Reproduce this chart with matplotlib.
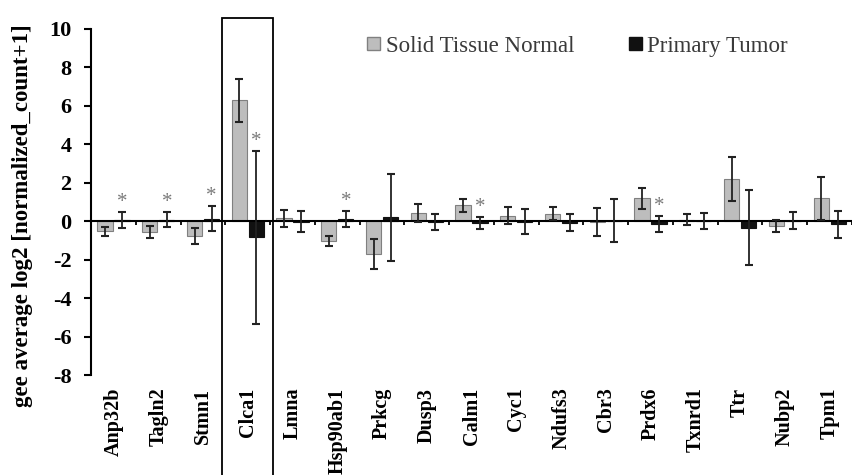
import matplotlib
matplotlib.use("Agg")
import matplotlib.pyplot as plt
import matplotlib.transforms as mtransforms
from matplotlib.patches import Patch, Rectangle
import numpy as np

genes = ["Anp32b", "Tagln2", "Stmn1", "Clca1", "Lmna", "Hsp90ab1", "Prkcg",
         "Dusp3", "Calm1", "Cyc1", "Ndufs3", "Cbr3", "Prdx6", "Txnrd1", "Ttr",
         "Nubp2", "Tpm1"]
normal_mean = [-0.52, -0.55, -0.78, 6.3, 0.15, -1.03, -1.72, 0.42, 0.82, 0.28,
               0.4, -0.04, 1.2, 0.08, 2.18, -0.25, 1.2]
normal_err = [0.23, 0.3, 0.43, 1.12, 0.43, 0.24, 0.77, 0.47, 0.32, 0.45,
              0.35, 0.73, 0.55, 0.3, 1.14, 0.32, 1.12]
tumor_mean = [0.06, 0.08, 0.13, -0.83, -0.03, 0.12, 0.2, -0.06, -0.1, -0.04,
              -0.07, 0.03, -0.15, 0.0, -0.34, 0.02, -0.15]
tumor_err = [0.42, 0.4, 0.65, 4.5, 0.54, 0.4, 2.26, 0.41, 0.33, 0.65,
             0.45, 1.1, 0.43, 0.43, 1.94, 0.45, 0.7]
significant = ["Anp32b", "Tagln2", "Stmn1", "Clca1", "Hsp90ab1", "Calm1", "Prdx6"]
highlight = "Clca1"

plt.rcParams["font.family"] = ["Liberation Serif", "DejaVu Serif"]
plt.rcParams["axes.unicode_minus"] = False

fig = plt.figure(figsize=(8.52, 4.75), dpi=100)
ax = fig.add_axes([0.107, 0.2105, 0.893, 0.7285])

x = np.arange(len(genes))
w = 0.34
off = 0.19
ax.bar(x - off, normal_mean, w, color="#bdbdbd", edgecolor="#808080", lw=0.8,
       zorder=2)
ax.bar(x + off, tumor_mean, w, color="#111111", edgecolor="#111111", lw=0.8,
       zorder=2)
ax.errorbar(x - off, normal_mean, yerr=normal_err, fmt="none", ecolor="#222222",
            elinewidth=1.3, capsize=3, capthick=1.5, zorder=3)
ax.errorbar(x + off, tumor_mean, yerr=tumor_err, fmt="none", ecolor="#222222",
            elinewidth=1.3, capsize=3, capthick=1.5, zorder=3)

for i, g in enumerate(genes):
    if g in significant:
        ax.annotate("*", (x[i] + off, tumor_mean[i] + tumor_err[i]),
                    xytext=(0, 0), textcoords="offset points", ha="center",
                    va="bottom", fontsize=15, color="#7a7a7a")

ax.set_xlim(-0.5, len(genes) - 0.5)
ax.set_ylim(-8, 10)
ax.set_yticks(range(-8, 11, 2))
ax.tick_params(axis="y", direction="out", length=5, width=1.5, pad=9,
               labelsize=16)
for lab in ax.get_yticklabels():
    lab.set_fontweight("bold")

ax.spines["top"].set_visible(False)
ax.spines["right"].set_visible(False)
ax.spines["left"].set_linewidth(1.5)
ax.spines["bottom"].set_position(("data", 0))
ax.spines["bottom"].set_linewidth(1.5)
ax.set_xticks(np.arange(len(genes) + 1) - 0.5)
ax.tick_params(axis="x", direction="out", length=3, width=1.3, labelbottom=False)

sec = ax.secondary_xaxis(0)
sec.set_xticks(x)
sec.set_xticklabels(genes, rotation=90, fontsize=14.5, fontweight="bold")
sec.tick_params(length=0, pad=9)
sec.spines["bottom"].set_visible(False)

ax.set_ylabel("gee average log2 [normalized_count+1]", fontsize=16.5,
              fontweight="bold")
ax.yaxis.set_label_coords(-0.077, 0.46)

# box round the highlighted gene
hi = genes.index(highlight)
trans = mtransforms.blended_transform_factory(ax.transData, fig.transFigure)
ax.add_patch(Rectangle((hi - 0.57, -0.01), 1.14, 0.972, transform=trans,
                       fill=False, edgecolor="black", lw=1.3, clip_on=False))

handles = [Patch(facecolor="#bdbdbd", edgecolor="#808080"),
           Patch(facecolor="#111111", edgecolor="#111111")]
fig.legend(handles, ["Solid Tissue Normal", "Primary Tumor"], loc="center",
           bbox_to_anchor=(0.678, 0.903), ncol=2, frameon=False, fontsize=16.5,
           handlelength=0.55, handleheight=0.55, handletextpad=0.25,
           columnspacing=2.4, labelcolor="#3a3a3a")

fig.savefig("out.png", dpi=100)
